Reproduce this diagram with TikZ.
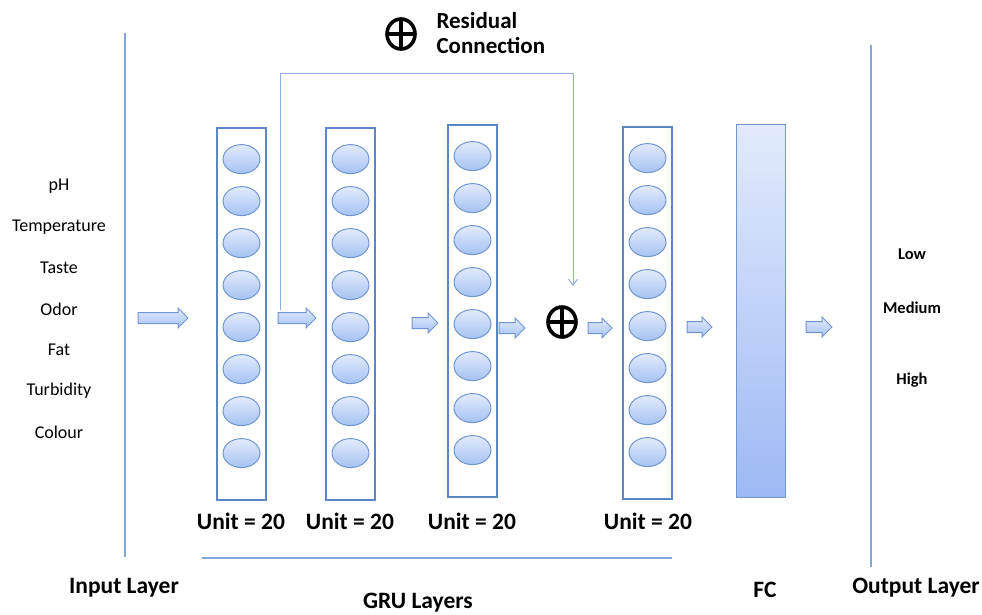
\documentclass[tikz,border=0pt]{standalone}
\usepackage{fontspec}
\setmainfont{Carlito}
\usetikzlibrary{shapes.geometric,arrows.meta,calc}
\definecolor{boxc}{HTML}{5B87C6}
\definecolor{ellc}{HTML}{7196CF}
\definecolor{lightt}{HTML}{E2EBFC}
\definecolor{darkb}{HTML}{A5C2F3}
\definecolor{linec}{HTML}{82A6DA}
\definecolor{resc}{HTML}{8EB0E2}
\tikzset{
  grubox/.style={draw=boxc, line width=1.8pt, minimum width=49pt, minimum height=372pt, inner sep=0pt},
  unit/.style={ellipse, draw=ellc, line width=1pt, top color=lightt, bottom color=darkb, minimum width=37pt, minimum height=29pt, inner sep=0pt},
  fcbar/.style={draw=ellc, line width=1pt, top color=lightt, bottom color=darkb!95!blue, minimum width=49pt, minimum height=373pt, inner sep=0pt},
  barrowstyle/.style={draw=ellc, line width=1pt, top color=lightt, bottom color=darkb},
  oplus/.style={ellipse, draw=black, line width=3.6pt, minimum width=28pt, minimum height=30pt, inner sep=0pt,
    path picture={\draw[line width=3.6pt] (path picture bounding box.north) -- (path picture bounding box.south)
      (path picture bounding box.west) -- (path picture bounding box.east);}},
  inlab/.style={font=\fontsize{18}{20}\selectfont},
  outlab/.style={font=\bfseries\fontsize{16.5}{18}\selectfont},
  unitlab/.style={font=\bfseries\fontsize{23.5}{26}\selectfont},
  laylab/.style={font=\bfseries\fontsize{23.5}{26}\selectfont},
  sepline/.style={draw=linec, line width=1.2pt},
}
\newcommand\barrow[3]{\draw[barrowstyle] (#1,#2) ++(0,-5.5) -- ++({#3-10},0) -- ++(0,-4.5) -- ++(10,10) -- ++(-10,10) -- ++(0,-4.5) -- ++({-(#3-10)},0) -- cycle;}
\begin{document}
\begin{tikzpicture}[x=1pt,y=-1pt]
\useasboundingbox (0,0) rectangle (982,614);
% separator lines
\coordinate (l1a) at (125,33); \coordinate (l1b) at (125,557);
\coordinate (l2a) at (871,45); \coordinate (l2b) at (871,567);
\coordinate (h1a) at (202,558); \coordinate (h1b) at (672,558);
\draw[sepline] (l1a) -- (l1b);
\draw[sepline] (l2a) -- (l2b);
\draw[sepline] (h1a) -- (h1b);
% GRU boxes
\node[grubox] (g1) at (241.5,314) {};
\node[grubox] (g2) at (350.5,314) {};
\node[grubox] (g3) at (472.5,311) {};
\node[grubox] (g4) at (647.5,313) {};
\foreach \b in {1,2,3,4}{
  \foreach \k in {0,...,7}{
    \node[unit] (u\b-\k) at ($(g\b.north)+(0,{32+42*\k})$) {};
  }
}
% FC
\node[fcbar] (fc) at (760.5,310.5) {};
% block arrows
\barrow{138}{318}{50}
\barrow{278}{318}{38}
\barrow{412}{323}{26}
\barrow{499}{328}{26}
\barrow{588}{328}{24}
\barrow{687}{327}{25}
\barrow{806}{327}{26}
% oplus
\node[oplus] (add) at (562,322) {};
\node[oplus] (addkey) at (401,34) {};
\node[anchor=west, align=left, font=\bfseries\fontsize{23}{25}\selectfont] (restxt) at (433,33) {Residual\\Connection};
% residual connection
\coordinate (r0) at (280,310);
\coordinate (r1) at (280,73);
\coordinate (r2) at (573,73);
\coordinate (r3) at (573,286);
\draw[resc, line width=1pt, -{Straight Barb[length=6pt,width=9pt]}] (r0) -- (r1) -- (r2) -- (r3);
% inputs
\node[inlab] (i1) at (59,186) {pH};
\node[inlab] (i2) at (59,227) {Temperature};
\node[inlab] (i3) at (59,268) {Taste};
\node[inlab] (i4) at (59,309) {Odor};
\node[inlab] (i5) at (59,350) {Fat};
\node[inlab] (i6) at (59,391) {Turbidity};
\node[inlab] (i7) at (59,432) {Colour};
% outputs
\node[outlab] (o1) at (912,254) {Low};
\node[outlab] (o2) at (912,308) {Medium};
\node[outlab] (o3) at (912,380) {High};
% unit labels
\node[unitlab] (t1) at (241,521) {Unit = 20};
\node[unitlab] (t2) at (350,521) {Unit = 20};
\node[unitlab] (t3) at (472,521) {Unit = 20};
\node[unitlab] (t4) at (648,521) {Unit = 20};
% layer labels
\node[laylab] (inl) at (124,588) {Input Layer};
\node[laylab] (grul) at (418,603) {GRU Layers};
\node[laylab] (fcl) at (765,590) {FC};
\node[laylab] (outl) at (916,588) {Output Layer};
\end{tikzpicture}
\end{document}
